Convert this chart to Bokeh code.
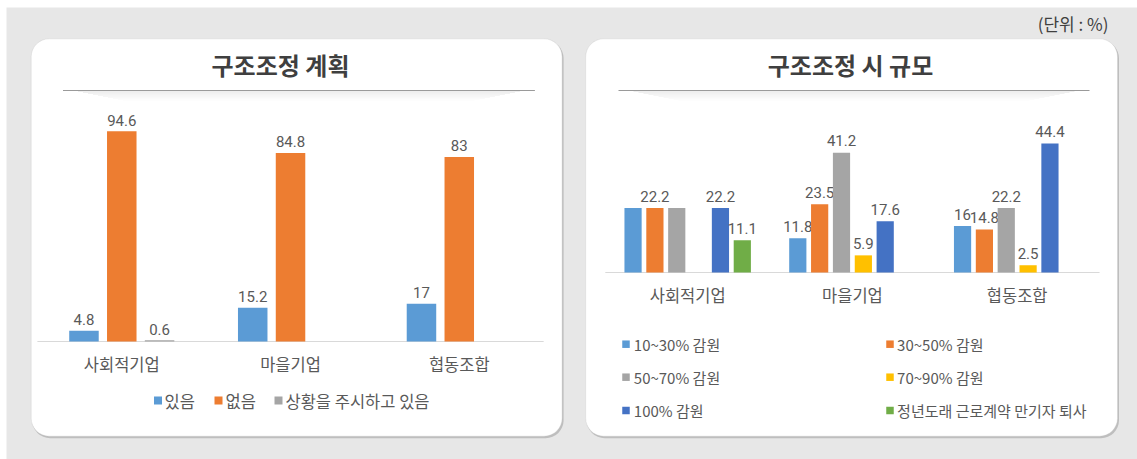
from bokeh.plotting import figure
from bokeh.models import Range1d, BoxAnnotation, ColumnDataSource
from bokeh.core.properties import value
from bokeh.embed import file_html
from bokeh.resources import INLINE

# ---------------- data ----------------
categories = ["사회적기업", "마을기업", "협동조합"]

plan_title = "구조조정 계획"
plan_names = ["있음", "없음", "상황을 주시하고 있음"]
plan_yes = [4.8, 15.2, 17]
plan_no = [94.6, 84.8, 83]
plan_watch = [0.6, 0, 0]

scale_title = "구조조정 시 규모"
scale_names = ["10~30% 감원", "30~50% 감원", "50~70% 감원",
               "70~90% 감원", "100% 감원", "정년도래 근로계약 만기자 퇴사"]
cut_10_30 = [22.2, 11.8, 16]
cut_30_50 = [22.2, 23.5, 14.8]
cut_50_70 = [22.2, 41.2, 22.2]
cut_70_90 = [0, 5.9, 2.5]
cut_100 = [22.2, 17.6, 44.4]
retire = [11.1, 0, 0]
# value labels as printed in the chart ("" = not printed)
lbl_10_30 = ["", "11.8", "16"]
lbl_30_50 = ["22.2", "23.5", "14.8"]
lbl_50_70 = ["", "41.2", "22.2"]
lbl_70_90 = ["", "5.9", "2.5"]
lbl_100 = ["22.2", "17.6", "44.4"]
lbl_retire = ["11.1", "", ""]

unit_text = "(단위 : %)"

# ---------------- styles / layout ----------------
plan_colors = ["#5B9BD5", "#ED7D31", "#A5A5A5"]
scale_colors = ["#5B9BD5", "#ED7D31", "#A5A5A5", "#FFC000", "#4472C4", "#70AD47"]
TXT = "#595959"
KR = value("Noto Sans CJK KR")
NUM = value("Roboto")

W, H = 1137, 459
OX, OY = 0, 0          # canvas origin in page pixels

# left chart geometry (page pixels)
L_X0, L_CW, L_BASE, L_K = 36.9, 168.75, 341.0, 2.223
L_BW, L_PITCH = 29.5 / 168.75, 37.8 / 168.75
# right chart geometry
R_X0, R_CW, R_BASE, R_K = 604.8, 164.75, 272.0, 2.905
R_BW, R_PITCH = 17.2 / 164.75, 21.85 / 164.75

p = figure(width=W, height=H,
           x_range=Range1d(OX, OX + W), y_range=Range1d(OY + H, OY),
           output_backend="svg", toolbar_location=None, min_border=0,
           x_axis_location=None, y_axis_location=None)
p.grid.visible = False
p.outline_line_color = None
p.background_fill_color = "white"
p.border_fill_color = "white"

p.extra_x_ranges = {
    "lx": Range1d((OX - L_X0) / L_CW, (OX + W - L_X0) / L_CW),
    "rx": Range1d((OX - R_X0) / R_CW, (OX + W - R_X0) / R_CW),
}
p.extra_y_ranges = {
    "ly": Range1d((L_BASE - (OY + H)) / L_K, (L_BASE - OY) / L_K),
    "ry": Range1d((R_BASE - (OY + H)) / R_K, (R_BASE - OY) / R_K),
}

# grey panel behind everything
p.add_layout(BoxAnnotation(left=6, right=W + 5, top=7, bottom=H + 5,
                           fill_color="#e7e7e7", fill_alpha=1.0, line_color=None, level="underlay"))

# ---------------- cards ----------------
CARD_TOP, CARD_BOT = 38.3, 435.7
for l, r in [(30.7, 561.6), (585.2, 1117.0)]:
    p.add_layout(BoxAnnotation(left=l + 1, right=r + 1.5, top=CARD_TOP + 1.5, bottom=CARD_BOT + 2,
                               fill_color="#b0b0b0", fill_alpha=0.75, line_color=None,
                               border_radius=18, level="underlay"))
    p.add_layout(BoxAnnotation(left=l, right=r, top=CARD_TOP, bottom=CARD_BOT,
                               fill_color="white", fill_alpha=1.0, line_color="#c2c2c2",
                               line_width=1, border_radius=18, level="underlay"))

# titles with underline + soft shadow
for cx, (x0, x1), title in [(280, (62.5, 534.4), plan_title), (850, (618, 1089), scale_title)]:
    for k in range(1, 11):
        inset = 10 + k * 5
        p.segment(x0=[x0 + inset], y0=[90 + k], x1=[x1 - inset], y1=[90 + k],
                  line_color="black", line_alpha=0.075 * (1 - k / 11.0), line_width=1)
    p.segment(x0=[x0], y0=[90], x1=[x1], y1=[90], line_color="#9a9a9a", line_width=1.2)
    p.text(x=[cx], y=[64], text=[title], text_align="center", text_baseline="middle",
           text_font=KR, text_font_size="24px", text_font_style="bold", text_color="#3f3f3f")

p.text(x=[1108], y=[22.5], text=[unit_text], text_align="right", text_baseline="middle",
       text_font=KR, text_font_size="17px", text_color="#404040")

# ---------------- left chart ----------------
p.segment(x0=[0], y0=[0], x1=[3], y1=[0], x_range_name="lx", y_range_name="ly",
          line_color="#d9d9d9", line_width=1.2)
plan_series = [plan_yes, plan_no, plan_watch]
for j, vals in enumerate(plan_series):
    xs = [i + 0.5 + (j - 1) * L_PITCH for i in range(len(categories))]
    src = ColumnDataSource(dict(x=xs, top=vals,
                                label=[f"{v:g}" if v > 0 else "" for v in vals]))
    p.vbar(x="x", top="top", bottom=0, width=L_BW, source=src, x_range_name="lx", y_range_name="ly",
           fill_color=plan_colors[j], line_color=None)
    p.text(x="x", y="top", text="label", source=src, x_range_name="lx", y_range_name="ly",
           text_align="center", text_baseline="alphabetic", y_offset=-11,
           text_font=NUM, text_font_size="15px", text_color=TXT)

p.text(x=[i + 0.5 for i in range(len(categories))], y=[363] * 3, text=categories,
       x_range_name="lx", text_align="center", text_baseline="middle",
       text_font=KR, text_font_size="16.5px", text_color=TXT)

# left legend
leg_sq_x = [157.5, 218.0, 278.0]
leg_tx_x = [164.0, 225.0, 285.0]
p.rect(x=leg_sq_x, y=[400] * 3, width=8, height=8, fill_color=plan_colors, line_color=None)
p.text(x=leg_tx_x, y=[400] * 3, text=plan_names, text_align="left", text_baseline="middle",
       text_font=KR, text_font_size="16.5px", text_color=TXT)

# ---------------- right chart ----------------
p.segment(x0=[0], y0=[0], x1=[3], y1=[0], x_range_name="rx", y_range_name="ry",
          line_color="#d9d9d9", line_width=1.2)
scale_series = [cut_10_30, cut_30_50, cut_50_70, cut_70_90, cut_100, retire]
scale_labels = [lbl_10_30, lbl_30_50, lbl_50_70, lbl_70_90, lbl_100, lbl_retire]
for j, (vals, lbls) in enumerate(zip(scale_series, scale_labels)):
    xs = [i + 0.5 + (j - 2.5) * R_PITCH for i in range(len(categories))]
    src = ColumnDataSource(dict(x=xs, top=vals, label=lbls))
    p.vbar(x="x", top="top", bottom=0, width=R_BW, source=src, x_range_name="rx", y_range_name="ry",
           fill_color=scale_colors[j], line_color=None)
    p.text(x="x", y="top", text="label", source=src, x_range_name="rx", y_range_name="ry",
           text_align="center", text_baseline="alphabetic", y_offset=-12,
           text_font=NUM, text_font_size="15px", text_color=TXT)

p.text(x=[i + 0.5 for i in range(len(categories))], y=[294] * 3, text=categories,
       x_range_name="rx", text_align="center", text_baseline="middle",
       text_font=KR, text_font_size="16.5px", text_color=TXT)

# right legend (2 columns x 3 rows)
col_sq = [625.5, 889.5]
col_tx = [633.3, 896.6]
row_y = [343.7, 376.7, 410.0]
sq_x = [col_sq[k % 2] for k in range(6)]
tx_x = [col_tx[k % 2] for k in range(6)]
ys = [row_y[k // 2] for k in range(6)]
p.rect(x=sq_x, y=ys, width=7.5, height=7.5, fill_color=scale_colors, line_color=None)
p.text(x=tx_x, y=ys, text=scale_names, text_align="left", text_baseline="middle",
       text_font=KR, text_font_size="15px", text_color=TXT)

open("out.html", "w").write(file_html(p, INLINE))
